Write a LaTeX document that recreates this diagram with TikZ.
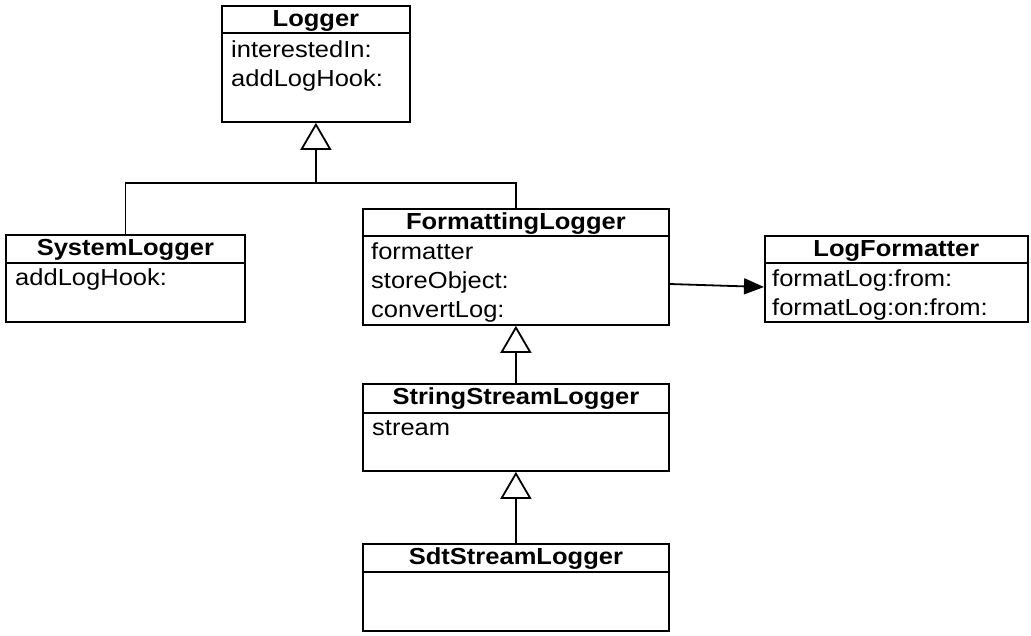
\documentclass[tikz,border=0pt]{standalone}
\usepackage{fontspec}
\setmainfont{Liberation Sans}[FakeStretch=1.1]
\usetikzlibrary{arrows.meta, positioning}

\begin{document}
\begin{tikzpicture}[
    x=1pt, y=-1pt,
    font=\fontsize{23.2}{29}\selectfont,
    classbox/.style={
        rectangle, draw=black, line width=1.8pt,
        anchor=north west, inner sep=0pt
    },
    title/.style={
        anchor=base, inner sep=0pt,
        font=\fontsize{23.2}{29}\selectfont\bfseries
    },
    attrs/.style={
        anchor=base west, inner sep=0pt,
        text width=250pt, align=left
    },
    sep/.style={line width=1.6pt},
    link/.style={line width=1.8pt},
    inherit/.style={
        -{Triangle[open, length=27pt, width=31pt]}, line width=1.8pt
    },
    assoc/.style={
        -{Triangle[length=20pt, width=16pt]}, line width=1.8pt
    }
]

\useasboundingbox (0,0) rectangle (1031,635);

% Logger
\node[classbox, minimum width=188pt, minimum height=116pt] (logger) at (221,5) {};
\node[title] (logger-t) at ([yshift=-21pt]logger.north) {Logger};
\draw[sep] ([yshift=-28pt]logger.north west) -- ([yshift=-28pt]logger.north east);
\node[attrs] (logger-a) at ([xshift=10pt, yshift=-52pt]logger.north west) {interestedIn:\\addLogHook:};

% SystemLogger
\node[classbox, minimum width=239pt, minimum height=87pt] (syslog) at (5,234) {};
\node[title] (syslog-t) at ([yshift=-21pt]syslog.north) {SystemLogger};
\draw[sep] ([yshift=-29pt]syslog.north west) -- ([yshift=-29pt]syslog.north east);
\node[attrs] (syslog-a) at ([xshift=10pt, yshift=-51pt]syslog.north west) {addLogHook:};

% FormattingLogger
\node[classbox, minimum width=306pt, minimum height=116pt] (fmtlog) at (362,208) {};
\node[title] (fmtlog-t) at ([yshift=-21pt]fmtlog.north) {FormattingLogger};
\draw[sep] ([yshift=-28pt]fmtlog.north west) -- ([yshift=-28pt]fmtlog.north east);
\node[attrs] (fmtlog-a) at ([xshift=9pt, yshift=-51pt]fmtlog.north west) {formatter\\storeObject:\\convertLog:};

% LogFormatter
\node[classbox, minimum width=263pt, minimum height=86pt] (logfmt) at (764,235) {};
\node[title] (logfmt-t) at ([yshift=-21pt]logfmt.north) {LogFormatter};
\draw[sep] ([yshift=-28pt]logfmt.north west) -- ([yshift=-28pt]logfmt.north east);
\node[attrs] (logfmt-a) at ([xshift=8pt, yshift=-51pt]logfmt.north west) {formatLog:from:\\formatLog:on:from:};

% StringStreamLogger
\node[classbox, minimum width=306pt, minimum height=87pt] (strlog) at (362,383) {};
\node[title] (strlog-t) at ([yshift=-21pt]strlog.north) {StringStreamLogger};
\draw[sep] ([yshift=-30pt]strlog.north west) -- ([yshift=-30pt]strlog.north east);
\node[attrs] (strlog-a) at ([xshift=10pt, yshift=-52pt]strlog.north west) {stream};

% SdtStreamLogger
\node[classbox, minimum width=306pt, minimum height=87pt] (sdtlog) at (362,543) {};
\node[title] (sdtlog-t) at ([yshift=-21pt]sdtlog.north) {SdtStreamLogger};
\draw[sep] ([yshift=-29pt]sdtlog.north west) -- ([yshift=-29pt]sdtlog.north east);

% Inheritance
\coordinate (split) at ([yshift=-60pt]logger.south);
\draw[inherit] (split) -- (logger.south);
\draw[link] (syslog.north) |- (split) -| (fmtlog.north);
\draw[inherit] (strlog.north) -- (fmtlog.south);
\draw[inherit] (sdtlog.north) -- (strlog.south);

% Association
\draw[assoc] ([yshift=-76pt]fmtlog.north east) -- ([yshift=-52pt]logfmt.north west);

\end{tikzpicture}
\end{document}
